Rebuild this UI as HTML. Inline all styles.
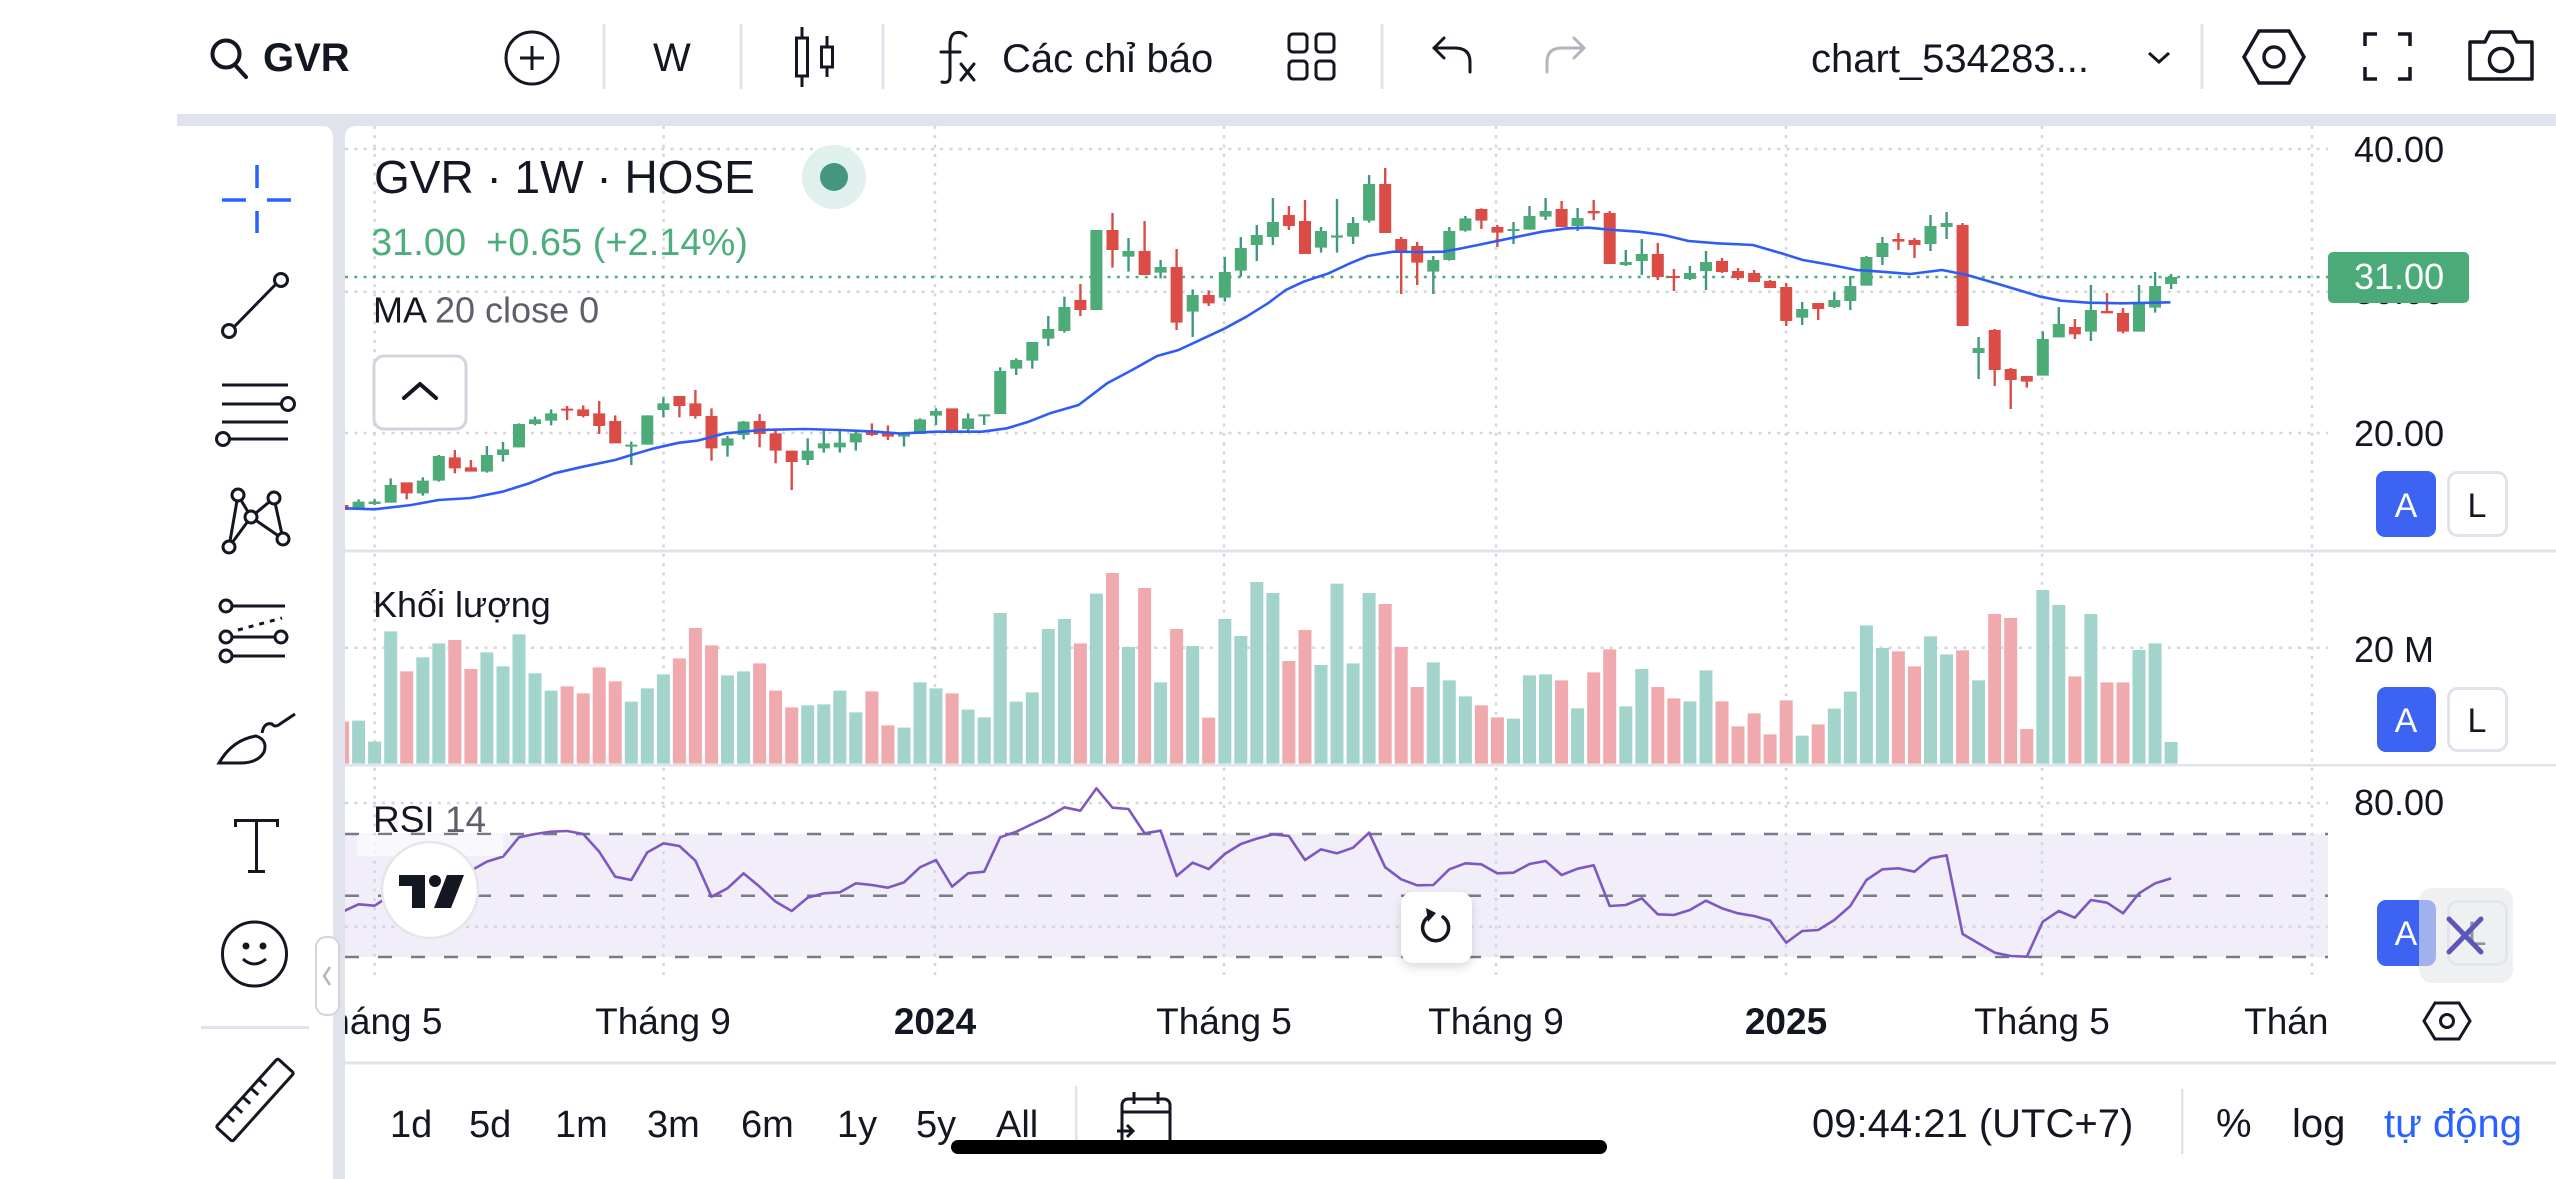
<!DOCTYPE html>
<html><head><meta charset="utf-8"><title>GVR chart</title>
<style>
html,body{margin:0;padding:0;background:#fff;}
body{width:2556px;height:1179px;overflow:hidden;}
svg{display:block;}
text{font-family:"Liberation Sans","DejaVu Sans","Noto Sans CJK JP",sans-serif;}
</style></head>
<body>
<svg width="2556" height="1179" viewBox="0 0 2556 1179" xmlns="http://www.w3.org/2000/svg">
<defs>
<clipPath id="plot"><rect x="345" y="126" width="1983" height="860"/></clipPath>
<clipPath id="taxis"><rect x="345" y="990" width="1983" height="70"/></clipPath>
<filter id="sh" x="-30%" y="-30%" width="160%" height="170%"><feDropShadow dx="0" dy="4" stdDeviation="5" flood-color="#000" flood-opacity="0.15"/></filter>
</defs>

<!-- background frame -->
<rect x="0" y="0" width="2556" height="1179" fill="#fff"/>
<rect x="177" y="114" width="2379" height="1065" fill="#e0e3eb"/>
<path d="M0,126 H321 Q333,126 333,138 V1179 H0 Z" fill="#fff"/>
<path d="M345,138 Q345,126 357,126 H2556 V1179 H345 Z" fill="#fff"/>

<!-- ===== TOP TOOLBAR ===== -->
<g fill="none" stroke="#131722" stroke-width="4" stroke-linecap="round">
  <circle cx="226" cy="54" r="13.5"/>
  <line x1="235" y1="65" x2="246" y2="77"/>
</g>
<text x="263" y="71" font-size="40" font-weight="bold" fill="#131722">GVR</text>
<g fill="none" stroke="#131722" stroke-width="3">
  <circle cx="532" cy="58" r="26"/>
  <line x1="520" y1="58" x2="544" y2="58"/><line x1="532" y1="46" x2="532" y2="70"/>
</g>
<g stroke="#e0e3eb" stroke-width="3">
  <line x1="604" y1="24" x2="604" y2="89"/><line x1="741" y1="24" x2="741" y2="89"/>
  <line x1="883" y1="24" x2="883" y2="89"/><line x1="1382" y1="24" x2="1382" y2="89"/>
  <line x1="2202" y1="24" x2="2202" y2="89"/>
</g>
<text x="653" y="71" font-size="40" fill="#131722">W</text>
<g fill="none" stroke="#131722" stroke-width="3">
  <line x1="802" y1="27" x2="802" y2="87"/><rect x="796.5" y="38" width="11" height="38" fill="#fff"/>
  <line x1="827" y1="36" x2="827" y2="77"/><rect x="821.5" y="47" width="11" height="20" fill="#fff"/>
</g>
<g fill="none" stroke="#131722" stroke-width="3" stroke-linecap="round">
  <path d="M966,36 Q962,31 955,33 Q950,35 950,45 L950,76 Q950,84 942,82"/>
  <line x1="941" y1="52" x2="960" y2="52"/>
  <line x1="961" y1="64" x2="974" y2="80"/><line x1="974" y1="64" x2="961" y2="80"/>
</g>
<text x="1002" y="72" font-size="40" fill="#131722">Các chỉ báo</text>
<g fill="none" stroke="#131722" stroke-width="3">
  <rect x="1289" y="34" width="18" height="18" rx="4"/><rect x="1316" y="34" width="18" height="18" rx="4"/>
  <rect x="1289" y="61" width="18" height="18" rx="4"/><rect x="1316" y="61" width="18" height="18" rx="4"/>
</g>
<g fill="none" stroke="#131722" stroke-width="3" stroke-linecap="round" stroke-linejoin="round">
  <path d="M1470,72 L1470,62 Q1470,48 1455,48 L1434,48"/><path d="M1444,38 L1434,48 L1444,58"/>
</g>
<g fill="none" stroke="#b2b5be" stroke-width="3" stroke-linecap="round" stroke-linejoin="round">
  <path d="M1547,72 L1547,62 Q1547,48 1562,48 L1584,48"/><path d="M1574,38 L1584,48 L1574,58"/>
</g>
<text x="1811" y="72" font-size="40" fill="#131722">chart_534283...</text>
<polyline points="2149,53 2159,62 2169,53" fill="none" stroke="#131722" stroke-width="3"/>
<g fill="none" stroke="#131722" stroke-width="3.5">
  <polygon points="2244,57 2259,31 2289,31 2304,57 2289,83 2259,83"/>
  <circle cx="2274" cy="57" r="10"/>
</g>
<g fill="none" stroke="#131722" stroke-width="3.5">
  <path d="M2365,46 V34 H2377"/><path d="M2398,34 H2410 V46"/>
  <path d="M2365,67 V79 H2377"/><path d="M2398,79 H2410 V67"/>
</g>
<g fill="none" stroke="#131722" stroke-width="3.5" stroke-linejoin="round">
  <path d="M2470,42 H2485 L2490,32 H2512 L2517,42 H2532 V79 H2470 Z"/>
  <circle cx="2501" cy="60" r="11.5"/>
</g>

<!-- ===== LEFT TOOLBAR ===== -->
<g stroke="#2962ff" stroke-width="3.5">
  <line x1="222" y1="200" x2="246" y2="200"/><line x1="267" y1="200" x2="291" y2="200"/>
  <line x1="257" y1="165" x2="257" y2="188"/><line x1="257" y1="211" x2="257" y2="233"/>
</g>
<g fill="none" stroke="#131722" stroke-width="3">
  <line x1="233" y1="328" x2="277" y2="283"/>
  <circle cx="229" cy="331" r="6.5" fill="#fff"/><circle cx="281" cy="280" r="6.5" fill="#fff"/>
  <line x1="222" y1="385" x2="288" y2="385"/><line x1="222" y1="404" x2="281" y2="404"/>
  <line x1="222" y1="422" x2="288" y2="422"/><line x1="230" y1="439" x2="288" y2="439"/>
  <circle cx="288" cy="404" r="6.5" fill="#fff"/><circle cx="223" cy="439" r="6.5" fill="#fff"/>
  <line x1="238" y1="495" x2="229" y2="547"/><line x1="229" y1="547" x2="251" y2="517"/>
  <line x1="238" y1="495" x2="251" y2="517"/><line x1="251" y1="517" x2="274" y2="498"/>
  <line x1="251" y1="517" x2="283" y2="539"/><line x1="274" y1="498" x2="283" y2="539"/>
  <circle cx="238" cy="495" r="6" fill="#fff"/><circle cx="274" cy="498" r="6" fill="#fff"/>
  <circle cx="251" cy="517" r="6" fill="#fff"/><circle cx="229" cy="547" r="6" fill="#fff"/>
  <circle cx="283" cy="539" r="6" fill="#fff"/>
  <line x1="232" y1="606" x2="285" y2="606"/><line x1="232" y1="637" x2="275" y2="637"/>
  <line x1="232" y1="656" x2="285" y2="656"/>
  <line x1="238" y1="630" x2="282" y2="618" stroke-dasharray="5 6"/>
  <circle cx="226" cy="606" r="6" fill="#fff"/><circle cx="226" cy="637" r="6" fill="#fff"/>
  <circle cx="281" cy="637" r="6" fill="#fff"/><circle cx="226" cy="656" r="6" fill="#fff"/>
  <path d="M219,763 Q232,740 256,736 Q268,740 264,752 Q258,763 240,763 Z"/>
  <path d="M262,733 Q264,722 272,724 Q275,728 280,724 L295,714"/>
  <circle cx="254.5" cy="954" r="32"/>
  <path d="M243,959 Q254,969 266,959"/>
</g>
<circle cx="246" cy="946" r="3.5" fill="#131722"/><circle cx="263" cy="946" r="3.5" fill="#131722"/>
<g fill="#131722">
  <rect x="234" y="819" width="45" height="3"/><rect x="234" y="819" width="3" height="8"/><rect x="276" y="819" width="3" height="8"/>
  <rect x="255" y="819" width="3" height="53"/><rect x="248" y="870" width="17" height="3"/>
</g>
<rect x="201" y="1026" width="108" height="3" fill="#e0e3eb"/>
<g transform="translate(255,1100) rotate(-48)" fill="none" stroke="#131722" stroke-width="3">
  <rect x="-46" y="-11" width="92" height="22" rx="2"/>
  <line x1="-30" y1="-11" x2="-30" y2="-1"/><line x1="-18" y1="-11" x2="-18" y2="-1"/>
  <line x1="-6" y1="-11" x2="-6" y2="-1"/><line x1="6" y1="-11" x2="6" y2="-1"/>
  <line x1="18" y1="-11" x2="18" y2="-1"/>
</g>
<rect x="316" y="937" width="23" height="78" rx="10" fill="#fff" stroke="#d1d4dc" stroke-width="2"/>
<polyline points="330,967 324,976 330,985" fill="none" stroke="#b2b5be" stroke-width="2.5"/>

<!-- ===== CHART PANES ===== -->
<!-- RSI band -->
<rect x="345" y="834" width="1983" height="123" fill="#f1eef9"/>
<!-- grid -->
<g stroke="#d4d6db" stroke-width="2.5" stroke-dasharray="3 6.3" fill="none">
  <line x1="374.6" y1="126" x2="374.6" y2="975"/><line x1="663.6" y1="126" x2="663.6" y2="975"/>
  <line x1="935" y1="126" x2="935" y2="975"/><line x1="1224" y1="126" x2="1224" y2="975"/>
  <line x1="1496" y1="126" x2="1496" y2="975"/><line x1="1786" y1="126" x2="1786" y2="975"/>
  <line x1="2042" y1="126" x2="2042" y2="975"/><line x1="2312" y1="126" x2="2312" y2="975"/>
  <line x1="345" y1="149" x2="2328" y2="149"/><line x1="345" y1="291.7" x2="2328" y2="291.7"/>
  <line x1="345" y1="433" x2="2328" y2="433"/><line x1="345" y1="647.7" x2="2328" y2="647.7"/>
  <line x1="345" y1="803" x2="2328" y2="803"/><line x1="345" y1="926.7" x2="2328" y2="926.7"/>
</g>
<!-- RSI dashed levels -->
<g stroke="#787b86" stroke-width="2.5" stroke-dasharray="14 19">
  <line x1="345" y1="834" x2="2328" y2="834"/><line x1="345" y1="895.7" x2="2328" y2="895.7"/>
  <line x1="345" y1="957" x2="2328" y2="957"/>
</g>

<!-- price line -->
<line x1="345" y1="277" x2="2328" y2="277" stroke="#4caf7b" stroke-width="2.5" stroke-dasharray="3 6.3"/>

<g clip-path="url(#plot)">
<!-- candles (y in 3x units) -->
<g transform="translate(0,130) scale(1,0.333333)">
<path fill="#3f9882" d="M357.4,1108h2.4v32h-2.4zM373.4,1108h2.4v17h-2.4zM389.5,1045h2.4v73h-2.4zM421.6,1042h2.4v55h-2.4zM437.6,975h2.4v80h-2.4zM485.7,948h2.4v80h-2.4zM501.8,936h2.4v59h-2.4zM517.8,880h2.4v72h-2.4zM533.8,860h2.4v26h-2.4zM549.9,838h2.4v48h-2.4zM630.1,935h2.4v70h-2.4zM646.1,856h2.4v88h-2.4zM662.2,802h2.4v60h-2.4zM726.3,918h2.4v62h-2.4zM742.4,873h2.4v55h-2.4zM806.5,925h2.4v80h-2.4zM822.6,902h2.4v66h-2.4zM838.6,898h2.4v70h-2.4zM854.6,898h2.4v64h-2.4zM902.8,907h2.4v43h-2.4zM918.8,865h2.4v47h-2.4zM934.8,835h2.4v50h-2.4zM966.9,850h2.4v55h-2.4zM983,853h2.4v32h-2.4zM999,712h2.4v140h-2.4zM1015,685h2.4v50h-2.4zM1031.1,636h2.4v80h-2.4zM1047.1,558h2.4v90h-2.4zM1063.2,500h2.4v108h-2.4zM1095.2,300h2.4v240h-2.4zM1127.3,324h2.4v101h-2.4zM1159.4,390h2.4v55h-2.4zM1191.5,478h2.4v143h-2.4zM1223.6,381h2.4v134h-2.4zM1239.6,321h2.4v119h-2.4zM1255.6,285h2.4v108h-2.4zM1271.7,204h2.4v141h-2.4zM1319.8,291h2.4v77h-2.4zM1335.8,207h2.4v161h-2.4zM1351.9,261h2.4v81h-2.4zM1367.9,135h2.4v143h-2.4zM1432.1,378h2.4v114h-2.4zM1448.1,291h2.4v101h-2.4zM1464.2,258h2.4v47h-2.4zM1512.3,276h2.4v66h-2.4zM1528.3,228h2.4v71h-2.4zM1544.4,204h2.4v66h-2.4zM1576.4,234h2.4v69h-2.4zM1624.6,360h2.4v48h-2.4zM1640.6,327h2.4v108h-2.4zM1688.7,408h2.4v42h-2.4zM1704.8,363h2.4v117h-2.4zM1801,516h2.4v69h-2.4zM1833.1,486h2.4v48h-2.4zM1849.1,438h2.4v102h-2.4zM1865.2,378h2.4v89h-2.4zM1881.2,321h2.4v84h-2.4zM1929.3,255h2.4v108h-2.4zM1945.4,246h2.4v81h-2.4zM1977.4,621h2.4v126h-2.4zM2041.6,604h2.4v133h-2.4zM2057.6,531h2.4v91h-2.4zM2089.7,465h2.4v168h-2.4zM2137.8,465h2.4v140h-2.4zM2153.9,426h2.4v122h-2.4zM2169.9,432h2.4v45h-2.4z"/>
<path fill="#4cab77" d="M352.6,1115h12v20h-12zM368.6,1115h12v7h-12zM384.7,1065h12v53h-12zM416.8,1052h12v38h-12zM432.8,978h12v74h-12zM480.9,975h12v50h-12zM497,958h12v17h-12zM513,882h12v70h-12zM529,868h12v14h-12zM545.1,850h12v22h-12zM625.3,944h12v6h-12zM641.3,856h12v88h-12zM657.4,820h12v20h-12zM721.5,925h12v22h-12zM737.6,875h12v40h-12zM801.7,962h12v28h-12zM817.8,940h12v15h-12zM833.8,938h12v14h-12zM849.8,910h12v27h-12zM898,907h12v13h-12zM914,868h12v44h-12zM930,843h12v14h-12zM962.1,865h12v32h-12zM978.2,853h12v6h-12zM994.2,723h12v129h-12zM1010.2,690h12v26h-12zM1026.3,636h12v56h-12zM1042.3,597h12v29h-12zM1058.4,531h12v72h-12zM1090.4,300h12v240h-12zM1122.5,363h12v17h-12zM1154.6,411h12v17h-12zM1186.7,495h12v50h-12zM1218.8,426h12v77h-12zM1234.8,354h12v68h-12zM1250.8,315h12v30h-12zM1266.9,276h12v45h-12zM1315,303h12v50h-12zM1331,316h12v7h-12zM1347.1,279h12v41h-12zM1363.1,162h12v110h-12zM1427.3,390h12v35h-12zM1443.3,303h12v87h-12zM1459.4,265h12v37h-12zM1507.5,297h12v6h-12zM1523.5,258h12v41h-12zM1539.6,243h12v17h-12zM1571.6,264h12v24h-12zM1619.8,396h12v9h-12zM1635.8,372h12v21h-12zM1683.9,429h12v18h-12zM1700,396h12v27h-12zM1796.2,537h12v26h-12zM1828.3,510h12v21h-12zM1844.3,468h12v45h-12zM1860.4,381h12v86h-12zM1876.4,339h12v42h-12zM1924.5,288h12v54h-12zM1940.6,279h12v12h-12zM1972.6,654h12v15h-12zM2036.8,627h12v110h-12zM2052.8,582h12v40h-12zM2084.9,540h12v65h-12zM2133,516h12v89h-12zM2149.1,468h12v65h-12zM2165.1,441h12v21h-12z"/>
<path fill="#db4c47" d="M341.4,1120h2.4v25h-2.4zM405.5,1057h2.4v51h-2.4zM453.6,960h2.4v70h-2.4zM469.7,990h2.4v35h-2.4zM565.9,828h2.4v42h-2.4zM582,826h2.4v36h-2.4zM598,813h2.4v99h-2.4zM614,856h2.4v84h-2.4zM678.2,798h2.4v64h-2.4zM694.2,780h2.4v86h-2.4zM710.3,835h2.4v157h-2.4zM758.4,852h2.4v100h-2.4zM774.4,895h2.4v105h-2.4zM790.5,962h2.4v118h-2.4zM870.7,880h2.4v38h-2.4zM886.7,886h2.4v44h-2.4zM950.9,835h2.4v68h-2.4zM1079.2,462h2.4v96h-2.4zM1111.3,249h2.4v164h-2.4zM1143.4,273h2.4v162h-2.4zM1175.4,357h2.4v243h-2.4zM1207.5,481h2.4v47h-2.4zM1287.7,228h2.4v72h-2.4zM1303.8,210h2.4v162h-2.4zM1384,114h2.4v195h-2.4zM1400,321h2.4v171h-2.4zM1416,336h2.4v129h-2.4zM1480.2,235h2.4v62h-2.4zM1496.2,285h2.4v66h-2.4zM1560.4,213h2.4v78h-2.4zM1592.5,210h2.4v60h-2.4zM1608.5,243h2.4v159h-2.4zM1656.6,339h2.4v111h-2.4zM1672.7,417h2.4v66h-2.4zM1720.8,384h2.4v45h-2.4zM1736.8,414h2.4v36h-2.4zM1752.9,420h2.4v36h-2.4zM1768.9,450h2.4v24h-2.4zM1785,459h2.4v129h-2.4zM1817,519h2.4v51h-2.4zM1897.2,309h2.4v51h-2.4zM1913.3,324h2.4v60h-2.4zM1961.4,279h2.4v309h-2.4zM1993.5,597h2.4v171h-2.4zM2009.5,714h2.4v123h-2.4zM2025.6,738h2.4v35h-2.4zM2073.7,567h2.4v60h-2.4zM2105.8,489h2.4v61h-2.4zM2121.8,534h2.4v76h-2.4zM336.6,1125h12v15h-12zM400.7,1057h12v33h-12zM448.8,982h12v33h-12zM464.9,1012h12v13h-12zM561.1,836h12v6h-12zM577.2,838h12v20h-12zM593.2,850h12v38h-12zM609.2,873h12v67h-12zM673.4,798h12v30h-12zM689.4,820h12v38h-12zM705.5,858h12v97h-12zM753.6,873h12v39h-12zM769.6,910h12v52h-12zM785.7,962h12v34h-12zM865.9,903h12v12h-12zM881.9,908h12v12h-12zM946.1,835h12v68h-12zM1074.4,510h12v30h-12zM1106.5,300h12v60h-12zM1138.6,363h12v72h-12zM1170.6,411h12v167h-12zM1202.7,495h12v25h-12zM1282.9,255h12v33h-12zM1299,273h12v99h-12zM1379.2,162h12v147h-12zM1395.2,327h12v38h-12zM1411.2,348h12v50h-12zM1475.4,237h12v35h-12zM1491.4,291h12v17h-12zM1555.6,237h12v54h-12zM1587.7,243h12v7h-12zM1603.7,249h12v153h-12zM1651.8,372h12v69h-12zM1667.9,438h12v6h-12zM1716,393h12v33h-12zM1732,423h12v21h-12zM1748.1,429h12v27h-12zM1764.1,453h12v21h-12zM1780.2,471h12v102h-12zM1812.2,519h12v18h-12zM1892.4,327h12v8h-12zM1908.5,330h12v15h-12zM1956.6,285h12v303h-12zM1988.7,600h12v120h-12zM2004.7,717h12v33h-12zM2020.8,738h12v17h-12zM2068.9,591h12v22h-12zM2101,543h12v7h-12zM2117,549h12v56h-12z"/>
</g>
<!-- MA 20 -->
<polyline fill="none" stroke="#2f5cf5" stroke-width="2.6" stroke-linejoin="round" points="345.4,508.3 374.6,509.3 411.4,505 438.6,500 470.7,498 502.5,491.7 529.3,483.3 554.3,473.3 582.9,466.7 615,460 631.4,455 654.3,448.3 679.3,442.7 697.1,440.7 725.7,433.3 761.4,430 804.3,429 840,430 875.7,431.7 900,433.5 935.7,431.7 982.1,431.7 1007.1,428.3 1028.6,421.7 1050,413.3 1078.6,405 1107.1,383.3 1132.1,370 1157.1,356 1178.6,350 1203.6,338.3 1225,328.3 1246.4,316.7 1267.9,303.3 1285.7,290 1303.6,281.7 1328.6,273.3 1350,263.3 1367.9,256 1392.9,251.7 1425,252 1442.9,251.7 1460,248.6 1477.9,245 1510,238.3 1542.1,231.7 1567.1,228.3 1588.6,227.7 1613.6,230 1638.6,231.7 1663.6,235 1688.6,241 1717.1,243.3 1752.9,245 1781.4,253.3 1802.9,260 1831.4,265 1856.4,270 1881.4,271.7 1910,274 1942.1,270 1967.1,275 1995.7,283.3 2020,290.5 2040.5,296.7 2061,300.7 2088.4,302.7 2122.6,303.3 2170.4,302.3"/>

<!-- volume (y in 3x units) -->
<g transform="translate(0,550) scale(1,0.333333)">
<path fill="#a2d4cc" d="M352.1,512h13v129h-13zM368.1,575h13v66h-13zM384.2,244h13v397h-13zM416.3,322h13v319h-13zM432.3,280h13v361h-13zM480.4,307h13v334h-13zM496.5,349h13v292h-13zM512.5,253h13v388h-13zM528.5,370h13v271h-13zM544.6,422h13v219h-13zM624.8,455h13v186h-13zM640.8,415h13v226h-13zM656.9,373h13v268h-13zM721,376h13v265h-13zM737.1,364h13v277h-13zM801.2,466h13v175h-13zM817.3,463h13v178h-13zM833.3,422h13v219h-13zM849.3,487h13v154h-13zM897.5,533h13v108h-13zM913.5,397h13v244h-13zM929.5,415h13v226h-13zM961.6,479h13v162h-13zM977.7,502h13v139h-13zM993.7,189h13v452h-13zM1009.7,455h13v186h-13zM1025.8,427h13v214h-13zM1041.8,237h13v404h-13zM1057.9,207h13v434h-13zM1089.9,131h13v510h-13zM1122,291h13v350h-13zM1154.1,397h13v244h-13zM1186.2,288h13v353h-13zM1218.3,207h13v434h-13zM1234.3,258h13v383h-13zM1250.3,96h13v545h-13zM1266.4,129h13v512h-13zM1314.5,345h13v296h-13zM1330.5,101h13v540h-13zM1346.6,340h13v301h-13zM1362.6,129h13v512h-13zM1426.8,337h13v304h-13zM1442.8,391h13v250h-13zM1458.9,439h13v202h-13zM1507,506h13v135h-13zM1523,376h13v265h-13zM1539.1,373h13v268h-13zM1571.1,475h13v166h-13zM1619.3,469h13v172h-13zM1635.3,357h13v284h-13zM1683.4,454h13v187h-13zM1699.5,361h13v280h-13zM1795.7,557h13v84h-13zM1827.8,476h13v165h-13zM1843.8,425h13v216h-13zM1859.9,226h13v415h-13zM1875.9,294h13v347h-13zM1924,259h13v382h-13zM1940.1,313h13v328h-13zM1972.1,391h13v250h-13zM2036.3,120h13v521h-13zM2052.3,165h13v476h-13zM2084.4,192h13v449h-13zM2132.5,300h13v341h-13zM2148.6,280h13v361h-13zM2164.6,576h13v65h-13z"/>
<path fill="#f0a9ad" d="M336.1,515h13v126h-13zM400.2,364h13v277h-13zM448.3,270h13v371h-13zM464.4,357h13v284h-13zM560.6,409h13v232h-13zM576.7,430h13v211h-13zM592.7,352h13v289h-13zM608.7,394h13v247h-13zM672.9,325h13v316h-13zM688.9,234h13v407h-13zM705,286h13v355h-13zM753.1,340h13v301h-13zM769.1,422h13v219h-13zM785.2,472h13v169h-13zM865.4,424h13v217h-13zM881.4,526h13v115h-13zM945.6,430h13v211h-13zM1073.9,280h13v361h-13zM1106,69h13v572h-13zM1138.1,114h13v527h-13zM1170.1,237h13v404h-13zM1202.2,503h13v138h-13zM1282.4,333h13v308h-13zM1298.5,240h13v401h-13zM1378.7,162h13v479h-13zM1394.7,291h13v350h-13zM1410.7,411h13v230h-13zM1474.9,466h13v175h-13zM1490.9,502h13v139h-13zM1555.1,391h13v250h-13zM1587.2,367h13v274h-13zM1603.2,298h13v343h-13zM1651.3,411h13v230h-13zM1667.4,445h13v196h-13zM1715.5,454h13v187h-13zM1731.5,529h13v112h-13zM1747.6,490h13v151h-13zM1763.6,553h13v88h-13zM1779.7,451h13v190h-13zM1811.7,523h13v118h-13zM1891.9,304h13v337h-13zM1908,349h13v292h-13zM1956.1,301h13v340h-13zM1988.2,192h13v449h-13zM2004.2,204h13v437h-13zM2020.3,537h13v104h-13zM2068.4,379h13v262h-13zM2100.5,397h13v244h-13zM2116.5,397h13v244h-13z"/>
<!-- RSI -->
<polyline fill="none" stroke="#7e57c2" stroke-width="2.6" vector-effect="non-scaling-stroke" stroke-linejoin="round" points="342.6,1085 358.6,1063 374.6,1067 390.7,1035 406.7,1030 422.8,1010 438.8,985 454.8,972 470.9,962 486.9,935 503,920 519,862 535,852 551.1,845 567.1,843 583.2,852 599.2,905 615.2,980 631.3,990 647.3,907 663.4,880 679.4,888 695.4,932 711.5,1040 727.5,1015 743.6,970 759.6,1010 775.6,1055 791.7,1083 807.7,1043 823.8,1030 839.8,1027 855.8,1000 871.9,1005 887.9,1013 904,997 920,952 936,930 952.1,1010 968.1,970 984.2,965 1000.2,862 1016.2,845 1032.3,822 1048.3,800 1064.4,772 1080.4,782 1096.4,715 1112.5,773 1128.5,777 1144.6,850 1160.6,842 1176.6,978 1192.7,938 1208.7,957 1224.8,912 1240.8,882 1256.8,866 1272.9,853 1288.9,858 1305,930 1321,898 1337,910 1353.1,893 1369.1,848 1385.2,952 1401.2,988 1417.2,1006 1433.3,1005 1449.3,958 1465.4,940 1481.4,943 1497.4,970 1513.5,968 1529.5,942 1545.6,933 1561.6,975 1577.6,956 1593.7,946 1609.7,1068 1625.8,1065 1641.8,1045 1657.8,1093 1673.9,1095 1689.9,1080 1706,1052 1722,1075 1738,1090 1754.1,1098 1770.1,1112 1786.2,1178 1802.2,1143 1818.2,1140 1834.3,1110 1850.3,1068 1866.4,990 1882.4,958 1898.4,955 1914.5,965 1930.5,925 1946.6,916 1962.6,1152 1978.6,1180 1994.7,1208 2010.7,1218 2026.8,1220 2042.8,1115 2058.8,1083 2074.9,1103 2090.9,1050 2107,1058 2123,1090 2139,1030 2155.1,1000 2171.1,985"/>
</g>
</g>

<!-- pane separators -->
<rect x="345" y="549.5" width="2211" height="3" fill="#e0e3eb"/>
<rect x="345" y="764" width="2211" height="2.5" fill="#e0e3eb"/>
<rect x="345" y="1061.5" width="2211" height="3" fill="#e0e3eb"/>

<!-- legends -->
<text x="374" y="193" font-size="46" fill="#131722">GVR · 1W · HOSE</text>
<circle cx="834" cy="177" r="32" fill="#e0f0ec"/>
<circle cx="834" cy="177" r="14" fill="#45967f"/>
<text x="371" y="255" font-size="38" fill="#4caf7b">31.00</text>
<text x="486" y="255" font-size="38" fill="#4caf7b">+0.65 (+2.14%)</text>
<text x="373" y="322.7" font-size="36" fill="#131722">MA <tspan fill="#5d606b">20 close 0</tspan></text>
<rect x="374" y="356" width="92" height="73" rx="10" fill="#fff" stroke="#d1d4dc" stroke-width="3"/>
<polyline points="404,398 420,384 436,398" fill="none" stroke="#131722" stroke-width="4" stroke-linecap="round" stroke-linejoin="round"/>
<text x="373" y="617" font-size="36" fill="#131722">Khối lượng</text>
<rect x="357" y="835" width="146" height="21" fill="#fff" opacity="0.6"/>
<text x="373" y="832" font-size="37" fill="#131722">RSI <tspan fill="#5d606b">14</tspan></text>

<!-- TradingView logo -->
<circle cx="430" cy="890" r="48" fill="#fff" stroke="#e4e6eb" stroke-width="2.5"/>
<g fill="#131722">
  <rect x="399" y="875" width="26" height="11"/><rect x="412" y="875" width="13" height="33"/>
  <circle cx="435" cy="881" r="6"/>
  <polygon points="447,875 464,875 451,908 434,908"/>
</g>

<!-- reset button -->
<rect x="1401" y="892" width="71" height="71" rx="12" fill="#fff" filter="url(#sh)"/>
<g fill="none" stroke="#131722" stroke-width="3.5" stroke-linecap="round">
  <path d="M1430,916 A13,13 0 1 0 1443,917"/>
</g>
<polygon points="1426,908 1436,913 1428,922" fill="#131722"/>

<!-- price axis -->
<text x="2354" y="162" font-size="36" fill="#131722">40.00</text>
<text x="2354" y="304" font-size="36" fill="#131722">30.00</text>
<rect x="2328" y="252" width="141" height="51" rx="5" fill="#4aab78"/>
<text x="2354" y="289" font-size="36" fill="#fff">31.00</text>
<text x="2354" y="446" font-size="36" fill="#131722">20.00</text>
<rect x="2376" y="471" width="60" height="66" rx="9" fill="#3c63f2"/>
<text x="2406" y="517" font-size="34" fill="#fff" text-anchor="middle">A</text>
<rect x="2448.5" y="472.5" width="58" height="63" rx="9" fill="#fff" stroke="#e0e3eb" stroke-width="3"/>
<text x="2477" y="517" font-size="34" fill="#131722" text-anchor="middle">L</text>

<text x="2354" y="662" font-size="36" fill="#131722">20 M</text>
<rect x="2377" y="687" width="59" height="65" rx="9" fill="#3c63f2"/>
<text x="2406" y="732" font-size="34" fill="#fff" text-anchor="middle">A</text>
<rect x="2448.5" y="688.5" width="58" height="62" rx="9" fill="#fff" stroke="#e0e3eb" stroke-width="3"/>
<text x="2477" y="732" font-size="34" fill="#131722" text-anchor="middle">L</text>

<text x="2354" y="815" font-size="36" fill="#131722">80.00</text>
<rect x="2377" y="900" width="59" height="66" rx="9" fill="#3c63f2"/>
<text x="2406" y="945" font-size="34" fill="#fff" text-anchor="middle">A</text>
<rect x="2448.5" y="901.5" width="58" height="63" rx="9" fill="#fff" stroke="#e0e3eb" stroke-width="3"/>
<text x="2477" y="945" font-size="34" fill="#131722" text-anchor="middle">L</text>
<rect x="2419" y="888" width="94" height="95" rx="13" fill="#e4e6ea" opacity="0.6"/>
<g stroke="#5b57b8" stroke-width="5" stroke-linecap="round">
  <line x1="2449" y1="919" x2="2481" y2="952"/><line x1="2481" y1="919" x2="2449" y2="952"/>
</g>

<!-- time axis -->
<g clip-path="url(#taxis)" font-size="37" fill="#131722" text-anchor="middle">
  <text x="374.6" y="1034">Tháng 5</text>
  <text x="663" y="1034">Tháng 9</text>
  <text x="935" y="1034" font-weight="bold">2024</text>
  <text x="1224" y="1034">Tháng 5</text>
  <text x="1496" y="1034">Tháng 9</text>
  <text x="1786" y="1034" font-weight="bold">2025</text>
  <text x="2042" y="1034">Tháng 5</text>
  <text x="2312" y="1034">Tháng 9</text>
</g>
<g fill="none" stroke="#131722" stroke-width="3">
  <polygon points="2424,1021 2435,1003 2459,1003 2470,1021 2459,1039 2435,1039"/>
  <circle cx="2447" cy="1021" r="6.5"/>
</g>

<!-- bottom bar -->
<g font-size="38" fill="#131722">
  <text x="390" y="1137">1d</text><text x="469" y="1137">5d</text><text x="555" y="1137">1m</text>
  <text x="647" y="1137">3m</text><text x="741" y="1137">6m</text><text x="837" y="1137">1y</text>
  <text x="916" y="1137">5y</text><text x="996" y="1137">All</text>
</g>
<rect x="1075" y="1086" width="2.5" height="57" fill="#e0e3eb"/>
<g fill="none" stroke="#131722" stroke-width="3">
  <rect x="1122" y="1099" width="48" height="50" rx="6"/>
  <line x1="1122" y1="1112" x2="1170" y2="1112"/>
  <line x1="1134" y1="1092" x2="1134" y2="1104"/><line x1="1158" y1="1092" x2="1158" y2="1104"/>
  <line x1="1117" y1="1131" x2="1133" y2="1131"/><polyline points="1127,1125 1133,1131 1127,1137"/>
</g>
<rect x="1122" y="1100" width="0" height="0"/>
<rect x="951" y="1140" width="656" height="14" rx="7" fill="#000"/>
<text x="1812" y="1137" font-size="40" fill="#131722">09:44:21 (UTC+7)</text>
<rect x="2181" y="1089" width="2.5" height="65" fill="#e0e3eb"/>
<text x="2216" y="1137" font-size="40" fill="#131722">%</text>
<text x="2292" y="1137" font-size="40" fill="#131722">log</text>
<text x="2384" y="1137" font-size="40" fill="#2962ff">tự động</text>
</svg>
</body></html>
